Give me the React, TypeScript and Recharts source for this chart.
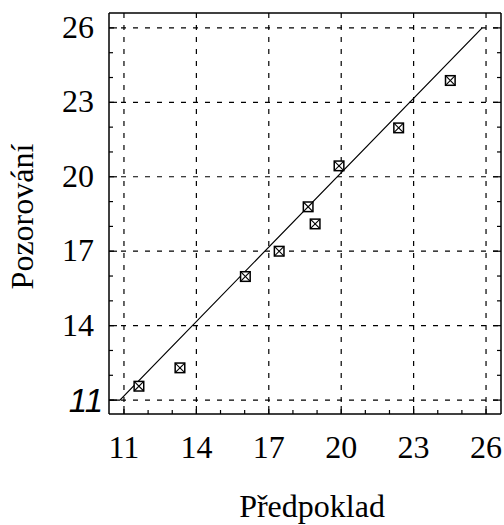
import { ReferenceLine, Scatter, ScatterChart, XAxis, YAxis } from "recharts";

const predicted = [11.62, 13.32, 16.03, 17.43, 18.63, 18.92, 19.91, 22.38, 24.52];
const observed = [11.56, 12.3, 15.98, 17.0, 18.79, 18.1, 20.44, 21.97, 23.88];

const fitX = [10.4, 10.83, 25.84];
const fitY = [11, 11, 26];

const majorTicks = [11, 14, 17, 20, 23, 26];
const allTicks = [11, 12, 13, 14, 15, 16, 17, 18, 19, 20, 21, 22, 23, 24, 25, 26];

const points = predicted.map((x, i) => ({ x, y: observed[i] }));
const fitLine = fitX.map((x, i) => ({ x, y: fitY[i] }));

const serif = "'Liberation Serif', 'Times New Roman', serif";
const sans = "'Liberation Sans', Arial, sans-serif";

const isMajor = (v: number) => majorTicks.includes(v);

function BottomTick({ x, y, payload }: any) {
  const v = payload.value;
  const len = isMajor(v) ? 8 : 4;
  return (
    <g>
      <line x1={x} x2={x} y1={y} y2={y - len} stroke="#000" strokeWidth={1.2} />
      {isMajor(v) && (
        <text x={x} y={y + 44} textAnchor="middle" fontFamily={serif} fontSize={32} fill="#000">
          {v}
        </text>
      )}
    </g>
  );
}

function TopTick({ x, y, payload }: any) {
  const len = isMajor(payload.value) ? 8 : 4;
  return <line x1={x} x2={x} y1={y} y2={y + len} stroke="#000" strokeWidth={1.2} />;
}

function LeftTick({ x, y, payload }: any) {
  const v = payload.value;
  const len = isMajor(v) ? 8 : 4;
  return (
    <g>
      <line x1={x} x2={x + len} y1={y} y2={y} stroke="#000" strokeWidth={1.2} />
      {isMajor(v) &&
        (v === 11 ? (
          <text x={x - 6} y={y + 12} textAnchor="end" fontFamily={sans} fontStyle="italic" fontSize={33} fill="#000">
            {v}
          </text>
        ) : (
          <text x={x - 15} y={y + 10} textAnchor="end" fontFamily={serif} fontSize={32} fill="#000">
            {v}
          </text>
        ))}
    </g>
  );
}

function RightTick({ x, y, payload }: any) {
  const len = isMajor(payload.value) ? 8 : 4;
  return <line x1={x} x2={x - len} y1={y} y2={y} stroke="#000" strokeWidth={1.2} />;
}

function BoxCross({ cx, cy }: any) {
  const s = 4.8;
  return (
    <g stroke="#000" strokeWidth={1.5}>
      <rect x={cx - s} y={cy - s} width={2 * s} height={2 * s} fill="#fff" />
      <line x1={cx - s} y1={cy - s} x2={cx + s} y2={cy + s} strokeWidth={1.1} />
      <line x1={cx - s} y1={cy + s} x2={cx + s} y2={cy - s} strokeWidth={1.1} />
    </g>
  );
}

function XTitle({ viewBox }: any) {
  return (
    <text
      x={viewBox.x + viewBox.width / 2 + 7}
      y={viewBox.y + 103}
      textAnchor="middle"
      fontFamily={serif}
      fontSize={32}
      fill="#000"
    >
      Předpoklad
    </text>
  );
}

function YTitle({ viewBox }: any) {
  const cy = viewBox.y + viewBox.height / 2 + 3;
  return (
    <text
      x={33}
      y={cy}
      transform={`rotate(-90, 33, ${cy})`}
      textAnchor="middle"
      fontFamily={serif}
      fontSize={32}
      fill="#000"
    >
      Pozorování
    </text>
  );
}

export default function App() {
  const axisLine = { stroke: "#000", strokeWidth: 1.5 };
  return (
    <div style={{ position: "absolute", left: 0, top: 0, background: "#fff" }}>
      <ScatterChart width={504} height={525} margin={{ top: 0, right: 0, bottom: 0, left: 0 }}>
        <XAxis
          type="number"
          dataKey="x"
          domain={[10.38, 26.62]}
          allowDataOverflow
          ticks={allTicks}
          interval={0}
          tickSize={0}
          tickMargin={0}
          tickLine={false}
          axisLine={axisLine}
          tick={<BottomTick />}
          height={111}
          label={<XTitle />}
        />
        <XAxis
          xAxisId="top"
          orientation="top"
          type="number"
          domain={[10.38, 26.62]}
          allowDataOverflow
          ticks={allTicks}
          interval={0}
          tickSize={0}
          tickMargin={0}
          tickLine={false}
          axisLine={axisLine}
          tick={<TopTick />}
          height={13}
        />
        <YAxis
          type="number"
          dataKey="y"
          domain={[10.44, 26.6]}
          allowDataOverflow
          ticks={allTicks}
          interval={0}
          tickSize={0}
          tickMargin={0}
          tickLine={false}
          axisLine={axisLine}
          tick={<LeftTick />}
          width={109}
          label={<YTitle />}
        />
        <YAxis
          yAxisId="right"
          orientation="right"
          type="number"
          domain={[10.44, 26.6]}
          allowDataOverflow
          ticks={allTicks}
          interval={0}
          tickSize={0}
          tickMargin={0}
          tickLine={false}
          axisLine={axisLine}
          tick={<RightTick />}
          width={3}
        />
        {majorTicks.map((v) => (
          <ReferenceLine key={`gx${v}`} x={v} stroke="#000" strokeWidth={1.2} strokeDasharray="5 7" />
        ))}
        {majorTicks.map((v) => (
          <ReferenceLine key={`gy${v}`} y={v} stroke="#000" strokeWidth={1.2} strokeDasharray="5 7" />
        ))}
        <Scatter
          data={fitLine}
          line={{ stroke: "#000", strokeWidth: 1.2 }}
          shape={() => <g />}
          isAnimationActive={false}
        />
        <Scatter data={points} shape={<BoxCross />} isAnimationActive={false} />
      </ScatterChart>
    </div>
  );
}
